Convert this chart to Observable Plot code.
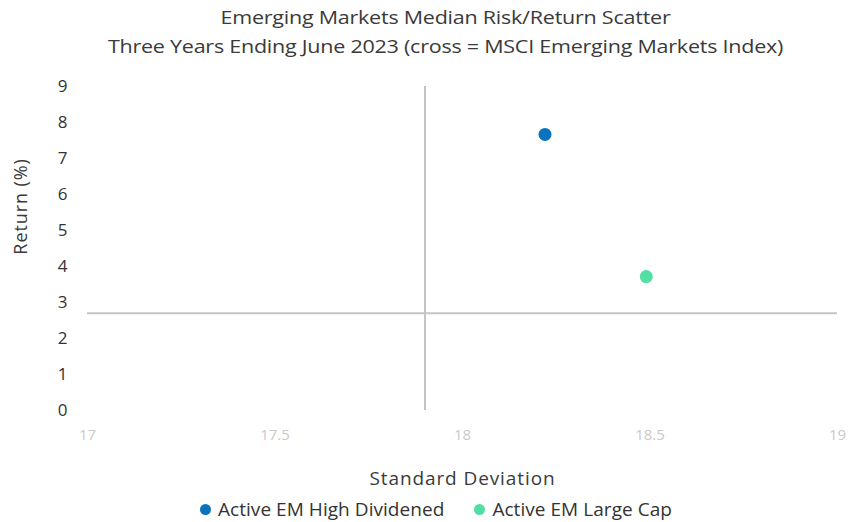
<!DOCTYPE html>
<html>
<head>
<meta charset="utf-8">
<script src="https://cdn.jsdelivr.net/npm/d3@7"></script>
<script src="https://cdn.jsdelivr.net/npm/@observablehq/plot@0.6"></script>
<style>
  html, body { margin: 0; padding: 0; background: #fff; overflow: hidden; }
  body { width: 851px; font-family: "Open Sans", Lato, sans-serif; color: #3a3a3a; }
  .title { height: 62px; box-sizing: border-box; padding-top: 3px; padding-left: 40px; text-align: center; font-size: 18px; line-height: 29px; letter-spacing: -0.2px; transform: scaleX(1.195); transform-origin: 445.5px 0; }
  .legend { height: 22px; line-height: 22px; display: flex; align-items: center; justify-content: center; padding-left: 21px; font-size: 19px; gap: 30px; color: #333; letter-spacing: 0.05px; }
  .legend span { display: inline-flex; align-items: center; }
  .legend i { width: 11px; height: 11px; border-radius: 50%; display: inline-block; margin-right: 7px; }
</style>
</head>
<body>
<div class="title">Emerging Markets Median Risk/Return Scatter<br>Three Years Ending June 2023 (cross = MSCI Emerging Markets Index)</div>
<div id="chart"></div>
<div class="legend" id="legend"></div>
<script>
// Fund category medians (three-year standard deviation vs. annualised return)
const categories = ["Active EM High Dividened", "Active EM Large Cap"];
const stdDev = [18.22, 18.49];
const returns = [7.67, 3.72];
const colors = ["#0a73bd", "#52dfa3"];

// Benchmark crosshair: MSCI Emerging Markets Index
const indexStdDev = 17.9;
const indexReturn = 2.7;

// Axis ticks
const xTicks = [17, 17.5, 18, 18.5, 19];
const yTicks = [0, 1, 2, 3, 4, 5, 6, 7, 8, 9];

const points = categories.map((name, i) => ({name, sd: stdDev[i], ret: returns[i]}));

const chart = Plot.plot({
  width: 851,
  height: 436,
  marginLeft: 87,
  marginRight: 14,
  marginTop: 24,
  marginBottom: 88,
  style: {fontFamily: "'Open Sans', Lato, sans-serif", background: "#fff"},
  x: {domain: [17, 19], label: null},
  y: {domain: [0, 9], label: null},
  color: {domain: categories, range: colors},
  marks: [
    Plot.axisX({ticks: xTicks, tickSize: 0, tickPadding: 19, tickFormat: d => String(d), fontSize: 15, fill: "#c9c9c9", label: null}),
    Plot.axisY({ticks: yTicks, tickSize: 0, tickPadding: 20, fontSize: 17, fill: "#333", label: null}),
    Plot.ruleY([indexReturn], {stroke: "#c4c4c4", strokeWidth: 2}),
    Plot.ruleX([indexStdDev], {stroke: "#c4c4c4", strokeWidth: 2}),
    Plot.dot(points, {x: "sd", y: "ret", fill: "name", r: 6.5}),
    Plot.text(["Return (%)"], {frameAnchor: "left", textAnchor: "middle", lineAnchor: "middle", rotate: -90, dx: -66, dy: -42, fontSize: 18, fill: "#3a3a3a"}),
    Plot.text(["Standard Deviation"], {frameAnchor: "bottom", textAnchor: "middle", lineAnchor: "middle", dy: 68, fontSize: 19, fill: "#3a3a3a"})
  ]
});
// widen the axis titles slightly with letter spacing
d3.select(chart).selectAll("text").filter(function () { return /Return|Standard/.test(this.textContent); })
  .style("letter-spacing", function () { return /Return/.test(this.textContent) ? "0.9px" : "0.9px"; });
document.getElementById("chart").appendChild(chart);

const legend = document.getElementById("legend");
categories.forEach((name, i) => {
  const s = document.createElement("span");
  s.innerHTML = `<i style="background:${colors[i]}"></i>${name}`;
  legend.appendChild(s);
});
</script>
</body>
</html>
